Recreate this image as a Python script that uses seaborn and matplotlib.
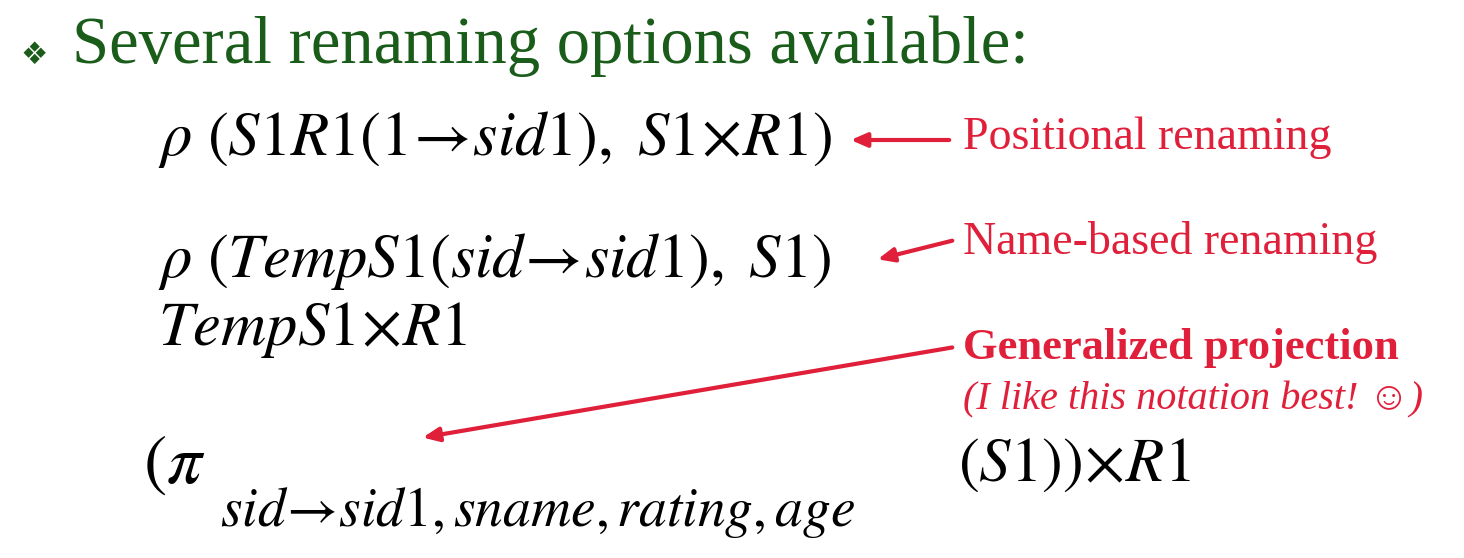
import matplotlib
matplotlib.use("Agg")
import matplotlib.pyplot as plt
import seaborn as sns

sns.set_theme(style="white")
plt.rcParams['mathtext.fontset'] = 'stix'
plt.rcParams['font.family'] = ['Liberation Serif', 'DejaVu Serif']

title_text = "Several renaming options available:"
formulas = [
    r"$\rho\ (S1R1(1\!\rightarrow\! sid1),\ S1\!\times\! R1)$",
    r"$\rho\ (TempS1(sid\!\rightarrow\! sid1),\ S1)$",
    r"$TempS1\!\times\! R1$",
]
proj_parts = [r"$(\pi$", r"$sid\!\rightarrow\! sid1,sname,rating,age$", r"$(S1))\!\times\! R1$"]
labels = ["Positional renaming", "Name-based renaming",
          "Generalized projection", "(I like this notation best! \u263a)"]

W, H = 1464, 558
fig = plt.figure(figsize=(W / 100, H / 100), dpi=100)
ax = fig.add_axes([0, 0, 1, 1])
ax.set_xlim(0, W); ax.set_ylim(H, 0); ax.axis("off")

green = "#1a5c1a"; red = "#e0203a"
ax.text(20, 55, "\u2756", fontsize=22, color=green, va="center", ha="left", family="DejaVu Sans")
ax.text(72, 46, title_text, fontsize=48, color=green, va="center", ha="left")

ax.text(158, 140, formulas[0], fontsize=45, va="center", ha="left", color="black")
ax.text(158, 262, formulas[1], fontsize=45, va="center", ha="left", color="black")
ax.text(158, 330, formulas[2], fontsize=45, va="center", ha="left", color="black")
ax.text(143, 466, proj_parts[0], fontsize=50, va="center", ha="left", color="black")
ax.text(220, 512, proj_parts[1], fontsize=40, va="center", ha="left", color="black")
ax.text(958, 466, proj_parts[2], fontsize=45, va="center", ha="left", color="black")

ax.text(963, 138, labels[0], fontsize=33, color=red, va="center", ha="left")
ax.text(963, 242, labels[1], fontsize=33, color=red, va="center", ha="left")
ax.text(963, 348, labels[2], fontsize=32, color=red, va="center", ha="left", weight="bold")
ax.text(963, 400, labels[3], fontsize=29, color=red, va="center", ha="left", style="italic",
        family=["Liberation Serif", "DejaVu Sans"])

arrows = [((952, 140), (848, 140)), ((955, 240), (875, 260)), ((955, 347), (420, 438))]
for (x0, y0), (x1, y1) in arrows:
    ax.annotate("", xy=(x1, y1), xytext=(x0, y0),
                arrowprops=dict(arrowstyle="-|>,head_length=0.8,head_width=0.35", color=red, lw=3))

fig.savefig("out.png", dpi=100)
